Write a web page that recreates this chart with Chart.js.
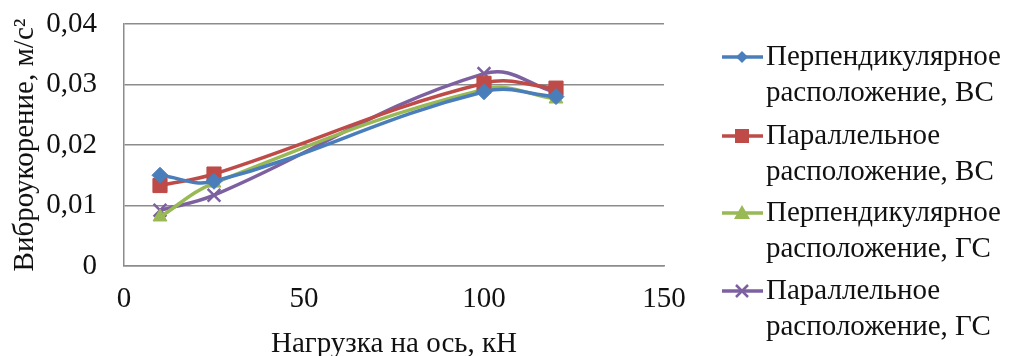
<!DOCTYPE html>
<html>
<head>
<meta charset="utf-8">
<script src="https://cdn.jsdelivr.net/npm/chart.js@4.4.0/dist/chart.umd.min.js"></script>
<style>
  html, body { margin: 0; padding: 0; background: #fff; }
  #wrap { width: 1014px; height: 356px; }
</style>
</head>
<body>
<div id="wrap"><canvas id="vibroChart" width="1014" height="356"></canvas></div>
<script>
const loads = [10, 25, 100, 120];
const perpVS = [0.0150, 0.0140, 0.0288, 0.0280];
const parVS = [0.0133, 0.0152, 0.0302, 0.0294];
const perpGS = [0.0081, 0.0137, 0.0292, 0.0276];
const parGS = [0.0092, 0.0117, 0.0318, 0.0287];
const seriesNames = [
    ["Перпендикулярное", "расположение, ВС"],
    ["Параллельное", "расположение, ВС"],
    ["Перпендикулярное", "расположение, ГС"],
    ["Параллельное", "расположение, ГС"],
];
const colors = ["#4a7ebb", "#be4b48", "#98b954", "#7d60a0"];
const markers = ["rectRot", "rect", "triangle", "crossRot"];
const fontFamily = "'Liberation Serif', 'DejaVu Serif', serif";
const fontSize = 29;

function toPoints(vals) {
    return vals.map((v, i) => ({ x: loads[i], y: v }));
}

function drawMarker(ctx, style, x, y, color) {
    ctx.save();
    ctx.fillStyle = color;
    ctx.strokeStyle = color;
    ctx.lineWidth = 2.5;
    ctx.beginPath();
    if (style === "rectRot") {
        ctx.moveTo(x, y - 6); ctx.lineTo(x + 6, y); ctx.lineTo(x, y + 6); ctx.lineTo(x - 6, y);
        ctx.closePath(); ctx.fill();
    } else if (style === "rect") {
        ctx.rect(x - 7, y - 7, 14, 14); ctx.fill();
    } else if (style === "triangle") {
        ctx.moveTo(x, y - 8); ctx.lineTo(x + 8, y + 6); ctx.lineTo(x - 8, y + 6);
        ctx.closePath(); ctx.fill();
    } else {
        ctx.moveTo(x - 6, y - 6); ctx.lineTo(x + 6, y + 6);
        ctx.moveTo(x + 6, y - 6); ctx.lineTo(x - 6, y + 6);
        ctx.stroke();
    }
    ctx.restore();
}

const sideLegend = {
    id: "sideLegend",
    afterDraw(chart) {
        const ctx = chart.ctx;
        const tops = [57, 136, 213, 291];
        ctx.save();
        ctx.font = fontSize + "px " + fontFamily;
        ctx.textBaseline = "middle";
        ctx.textAlign = "left";
        chart.data.datasets.forEach((ds, i) => {
            const y = tops[i];
            ctx.strokeStyle = ds.borderColor;
            ctx.lineWidth = 3.5;
            ctx.beginPath();
            ctx.moveTo(722, y);
            ctx.lineTo(763, y);
            ctx.stroke();
            drawMarker(ctx, markers[i], 742, y, ds.borderColor);
            ctx.fillStyle = "#111";
            seriesNames[i].forEach((line, j) => {
                ctx.fillText(line, 766, y + j * 36);
            });
        });
        ctx.restore();
    },
};

const datasets = [perpVS, parVS, perpGS, parGS].map((vals, i) => ({
    label: seriesNames[i].join(" "),
    data: toPoints(vals),
    borderColor: colors[i],
    backgroundColor: colors[i],
    borderWidth: 3.5,
    pointStyle: markers[i],
    pointRadius: i === 1 ? 10 : i === 3 ? 9 : 8,
    pointBorderWidth: i === 3 ? 2.5 : 1,
    tension: 0.4,
    fill: false,
    clip: false,
}));

new Chart(document.getElementById("vibroChart").getContext("2d"), {
    type: "line",
    data: { datasets: datasets },
    options: {
        responsive: false,
        animation: false,
        layout: { autoPadding: false, padding: { left: 8, right: 350, top: 24, bottom: 0 } },
        plugins: { legend: { display: false }, tooltip: { enabled: false } },
        scales: {
            x: {
                type: "linear",
                min: 0,
                max: 150,
                afterFit: (scale) => {
                    scale.height = 90;
                    scale.paddingLeft = 0;
                    scale.paddingRight = 0;
                },
                ticks: {
                    stepSize: 50,
                    color: "#111",
                    font: { family: fontFamily, size: fontSize },
                    padding: 16,
                },
                grid: { display: false, drawTicks: false },
                border: { color: "#8c8c8c", width: 1.5 },
                title: {
                    display: true,
                    text: "Нагрузка на ось, кН",
                    color: "#111",
                    font: { family: fontFamily, size: fontSize },
                    padding: { top: 4, bottom: -6 },
                },
            },
            y: {
                min: 0,
                max: 0.04,
                afterFit: (scale) => {
                    scale.width = 116;
                    scale.paddingTop = 0;
                    scale.paddingBottom = 0;
                },
                ticks: {
                    stepSize: 0.01,
                    color: "#111",
                    font: { family: fontFamily, size: fontSize },
                    padding: 27,
                    callback: (v) => (v === 0 ? "0" : v.toFixed(2).replace(".", ",")),
                },
                grid: { color: "#8c8c8c", lineWidth: 1.5, drawTicks: false },
                border: { color: "#8c8c8c", width: 1.5 },
                title: {
                    display: true,
                    text: "Виброукорение, м/с²",
                    color: "#111",
                    font: { family: fontFamily, size: fontSize },
                    padding: { top: 0, bottom: 0 },
                },
            },
        },
    },
    plugins: [sideLegend],
});
</script>
</body>
</html>
